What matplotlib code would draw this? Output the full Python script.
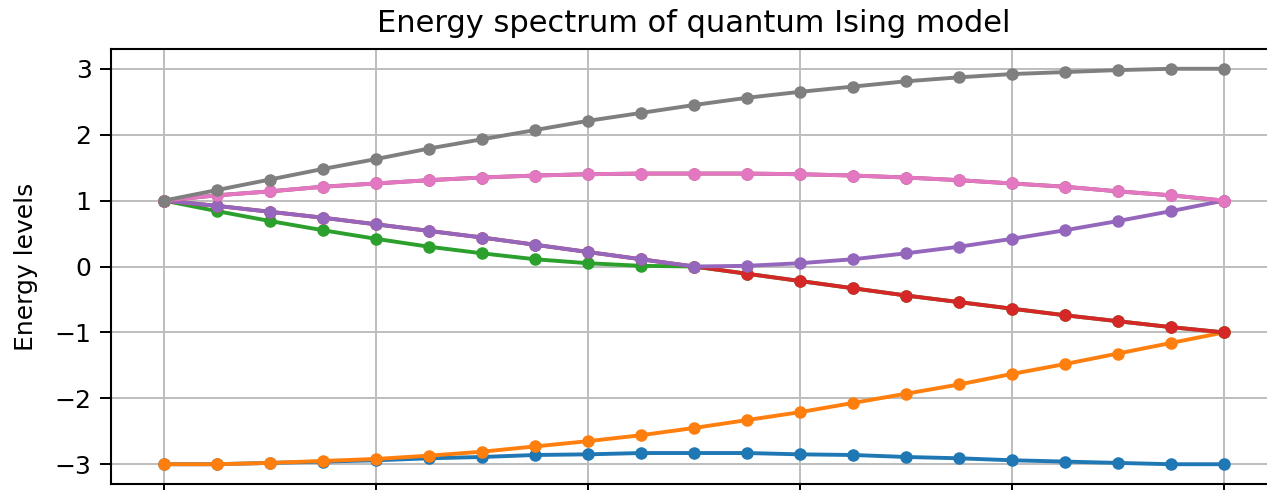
import numpy as np
from matplotlib import pyplot as plt

# coupling parameter (21 steps), tick labels fall below the cropped area
x = [0.00, 0.05, 0.10, 0.15, 0.20, 0.25, 0.30, 0.35, 0.40, 0.45, 0.50,
     0.55, 0.60, 0.65, 0.70, 0.75, 0.80, 0.85, 0.90, 0.95, 1.00]

# energy levels sorted from lowest to highest
level0 = [-3.00, -3.00, -2.98, -2.96, -2.94, -2.91, -2.89, -2.86, -2.85, -2.83, -2.83,
          -2.83, -2.85, -2.86, -2.89, -2.91, -2.94, -2.96, -2.98, -3.00, -3.00]
level1 = [-3.00, -3.00, -2.98, -2.95, -2.92, -2.87, -2.81, -2.73, -2.65, -2.56, -2.45,
          -2.33, -2.21, -2.07, -1.93, -1.79, -1.63, -1.48, -1.32, -1.16, -1.00]
level2 = [1.00, 0.84, 0.69, 0.55, 0.42, 0.30, 0.20, 0.11, 0.05, 0.01, 0.00,
          -0.11, -0.22, -0.33, -0.44, -0.54, -0.64, -0.74, -0.83, -0.92, -1.00]
level3 = [1.00, 0.92, 0.83, 0.74, 0.64, 0.54, 0.44, 0.33, 0.22, 0.11, 0.00,
          -0.11, -0.22, -0.33, -0.44, -0.54, -0.64, -0.74, -0.83, -0.92, -1.00]
level4 = [1.00, 0.92, 0.83, 0.74, 0.64, 0.54, 0.44, 0.33, 0.22, 0.11, 0.00,
          0.01, 0.05, 0.11, 0.20, 0.30, 0.42, 0.55, 0.69, 0.84, 1.00]
level5 = [1.00, 1.08, 1.14, 1.21, 1.26, 1.31, 1.35, 1.38, 1.40, 1.41, 1.41,
          1.41, 1.40, 1.38, 1.35, 1.31, 1.26, 1.21, 1.14, 1.08, 1.00]
level6 = [1.00, 1.08, 1.14, 1.21, 1.26, 1.31, 1.35, 1.38, 1.40, 1.41, 1.41,
          1.41, 1.40, 1.38, 1.35, 1.31, 1.26, 1.21, 1.14, 1.08, 1.00]
level7 = [1.00, 1.16, 1.32, 1.48, 1.63, 1.79, 1.93, 2.07, 2.21, 2.33, 2.45,
          2.56, 2.65, 2.73, 2.81, 2.87, 2.92, 2.95, 2.98, 3.00, 3.00]

levels = [level0, level1, level2, level3, level4, level5, level6, level7]

xtick_vals = [0.0, 0.2, 0.4, 0.6, 0.8, 1.0]
ytick_vals = [-3, -2, -1, 0, 1, 2, 3]

fig = plt.figure(figsize=(12.67, 4.90), dpi=100)
# the reference is a crop: right spine and x tick labels lie outside the picture
ax = fig.add_axes([111 / 1267, 6 / 490, 1166 / 1267, 435 / 490])

for i, lev in enumerate(levels):
    ax.plot(x, lev, marker='o', color='C%d' % i, linewidth=2.8, markersize=8)

ax.set_xticks(xtick_vals)
ax.set_yticks(ytick_vals)
ax.grid(True, color='#bdbdbd', linewidth=1.4)
ax.tick_params(axis='both', labelsize=18, length=8, width=1.4, pad=6)
for sp in ax.spines.values():
    sp.set_linewidth(1.5)

ax.set_ylabel("Energy levels", fontsize=18)
ax.yaxis.set_label_coords(-0.0626, 0.5)
ax.set_title("Energy spectrum of quantum Ising model", fontsize=22, pad=12)

fig.savefig("out.png", dpi=100)
